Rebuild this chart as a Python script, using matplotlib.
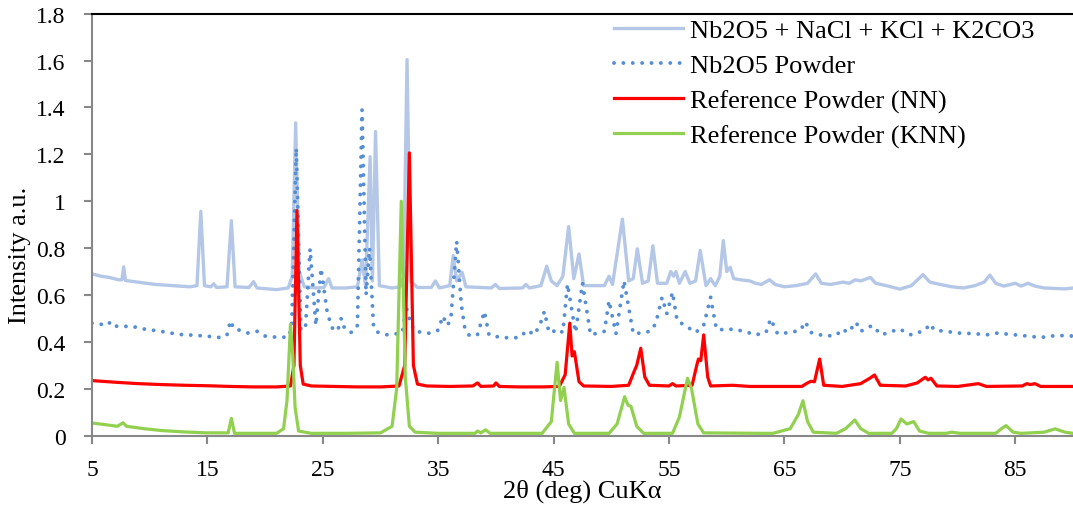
import matplotlib
matplotlib.use("Agg")
import matplotlib.pyplot as plt

plt.rcParams['font.family'] = ['Liberation Serif', 'DejaVu Serif']

# Nb2O5 + NaCl + KCl + K2CO3
mix_x = [5.0, 5.8, 6.5, 7.3, 7.6, 7.75, 7.9, 9.0, 10.5, 12.0, 13.5, 14.1, 14.43, 14.75, 15.3, 15.55,
         15.8, 16.7, 17.08, 17.4, 18.6, 19.0, 19.3, 21.0, 22.0, 22.35, 22.65, 22.95, 23.4, 24.5,
         25.1, 25.5, 25.8, 27.0, 28.0, 28.4, 28.7, 29.1, 29.3, 29.57, 29.9, 31.0, 31.7, 32.0,
         32.3, 32.6, 33.2, 34.4, 34.76, 35.1, 36.0, 36.3, 36.6, 37.07, 37.4, 39.6, 39.95, 40.3,
         42.3, 42.6, 42.9, 43.9, 44.4, 44.8, 45.3, 45.8, 46.3, 46.75, 47.2, 47.6, 49.4, 49.8,
         50.1, 50.96, 51.5, 51.9, 52.25, 52.7, 53.2, 53.6, 54.0, 54.8, 55.15, 55.4, 55.6, 55.9,
         56.4, 56.8, 57.3, 57.7, 58.2, 58.6, 59.0, 59.4, 59.7, 60.0, 60.3, 60.6, 61.2, 62.0,
         62.5, 63.0, 63.7, 64.2, 65.0, 66.0, 67.0, 67.7, 68.2, 69.0, 70.1, 70.6, 71.15, 71.6,
         72.45, 72.9, 74.0, 75.0, 76.0, 77.0, 77.6, 78.5, 79.5, 80.5, 81.5, 82.3, 82.8, 83.3,
         84.0, 85.0, 85.5, 86.1, 86.7, 87.5, 88.5, 89.3, 90.0]
mix_y = [0.690, 0.680, 0.675, 0.665, 0.665, 0.720, 0.662, 0.655, 0.645, 0.640, 0.635, 0.640, 0.957,
         0.640, 0.635, 0.648, 0.632, 0.635, 0.917, 0.635, 0.632, 0.657, 0.630, 0.623, 0.630,
         0.680, 1.334, 0.700, 0.635, 0.630, 0.632, 0.670, 0.630, 0.630, 0.635, 0.750, 0.640,
         1.190, 0.660, 1.297, 0.640, 0.630, 0.635, 0.680, 1.604, 0.660, 0.632, 0.632, 0.660,
         0.630, 0.640, 0.768, 0.660, 0.697, 0.635, 0.630, 0.645, 0.628, 0.630, 0.645, 0.630,
         0.640, 0.723, 0.660, 0.640, 0.680, 0.892, 0.670, 0.775, 0.640, 0.640, 0.680, 0.645,
         0.924, 0.660, 0.670, 0.797, 0.650, 0.660, 0.810, 0.650, 0.650, 0.700, 0.680, 0.700,
         0.650, 0.700, 0.650, 0.660, 0.790, 0.640, 0.670, 0.640, 0.680, 0.832, 0.700, 0.718,
         0.670, 0.665, 0.660, 0.650, 0.645, 0.665, 0.645, 0.635, 0.640, 0.650, 0.690, 0.650,
         0.645, 0.655, 0.650, 0.665, 0.660, 0.675, 0.650, 0.638, 0.625, 0.640, 0.687, 0.655,
         0.645, 0.635, 0.630, 0.640, 0.655, 0.685, 0.650, 0.638, 0.650, 0.638, 0.650, 0.638,
         0.630, 0.628, 0.626, 0.630]

# Nb2O5 Powder
nb_x = [5.0, 5.8, 6.3, 6.6, 6.9, 7.7, 8.3, 9.5, 11.0, 12.5, 14.0, 15.5, 16.2, 16.7, 17.0, 17.3,
        18.0, 18.5, 19.3, 20.0, 21.0, 22.0, 22.3, 22.7, 23.1, 23.5, 23.9, 24.4, 24.85, 25.4,
        25.9, 26.3, 26.6, 26.9, 27.5, 28.0, 28.4, 28.75, 29.05, 29.4, 29.8, 30.6, 31.4, 31.9,
        32.2, 32.6, 33.0, 34.2, 35.0, 35.4, 35.8, 36.1, 36.6, 37.0, 37.3, 37.7, 38.4, 39.0,
        39.4, 40.5, 42.0, 42.75, 43.3, 43.8, 44.2, 44.6, 45.0, 45.3, 45.8, 46.2, 46.9, 47.5,
        48.2, 49.0, 49.4, 49.8, 50.4, 51.1, 51.9, 53.0, 53.5, 53.85, 54.4, 54.8, 55.3, 55.7,
        56.4, 57.3, 58.0, 58.6, 59.1, 60.0, 60.5, 61.5, 62.5, 63.4, 63.8, 64.4, 65.5, 66.4,
        66.8, 67.3, 68.5, 69.5, 70.0, 70.5, 71.0, 71.2, 71.6, 72.2, 72.6, 73.4, 74.3, 75.0,
        75.5, 76.0, 77.2, 77.6, 78.0, 79.0, 80.0, 81.5, 82.5, 83.5, 84.5, 85.5, 86.5, 87.7,
        88.5, 90.0]
nb_y = [0.480, 0.475, 0.470, 0.485, 0.468, 0.465, 0.468, 0.455, 0.445, 0.432, 0.428, 0.422, 0.418,
        0.430, 0.490, 0.455, 0.448, 0.438, 0.445, 0.425, 0.420, 0.420, 0.460, 1.227, 0.450,
        0.460, 0.797, 0.470, 0.714, 0.520, 0.450, 0.450, 0.500, 0.455, 0.440, 0.470, 1.390,
        0.600, 0.800, 0.460, 0.440, 0.430, 0.435, 0.440, 0.555, 0.480, 0.445, 0.437, 0.450,
        0.510, 0.470, 0.500, 0.829, 0.560, 0.460, 0.427, 0.430, 0.530, 0.430, 0.418, 0.418,
        0.450, 0.430, 0.470, 0.530, 0.440, 0.445, 0.455, 0.440, 0.647, 0.440, 0.651, 0.430,
        0.440, 0.445, 0.576, 0.435, 0.661, 0.435, 0.440, 0.450, 0.480, 0.590, 0.520, 0.612,
        0.490, 0.470, 0.440, 0.470, 0.590, 0.455, 0.450, 0.455, 0.445, 0.430, 0.440, 0.498,
        0.435, 0.440, 0.450, 0.486, 0.440, 0.425, 0.428, 0.455, 0.440, 0.470, 0.484, 0.445,
        0.460, 0.470, 0.430, 0.445, 0.455, 0.440, 0.430, 0.450, 0.477, 0.450, 0.445, 0.438,
        0.435, 0.430, 0.438, 0.432, 0.428, 0.422, 0.420, 0.428, 0.425]

# Reference Powder (NN)
nn_x = [5.0, 7.0, 9.0, 11.0, 13.0, 15.0, 17.0, 19.0, 21.0, 22.2, 22.5, 22.76, 23.05, 23.3, 24.0,
        26.0, 28.0, 30.0, 31.6, 32.1, 32.5, 32.85, 33.2, 34.0, 36.0, 38.0, 38.4, 38.7, 39.8,
        40.0, 40.3, 42.0, 44.0, 45.5, 46.0, 46.4, 46.6, 46.8, 47.2, 47.6, 50.0, 51.5, 52.0,
        52.2, 52.55, 52.9, 53.3, 55.0, 55.3, 55.6, 57.0, 57.4, 57.55, 57.75, 58.0, 58.35, 58.6,
        60.5, 62.0, 66.5, 67.0, 67.3, 67.6, 68.05, 68.4, 70.0, 71.6, 72.4, 72.8, 73.3, 75.5,
        76.5, 77.2, 77.45, 77.7, 78.2, 80.0, 81.8, 82.5, 85.6, 86.0, 86.3, 86.7, 87.2, 90.0]
nn_y = [0.235, 0.228, 0.222, 0.218, 0.215, 0.213, 0.210, 0.208, 0.208, 0.212, 0.300, 0.960, 0.300,
        0.220, 0.212, 0.210, 0.208, 0.208, 0.212, 0.300, 1.206, 0.300, 0.220, 0.212, 0.210,
        0.212, 0.225, 0.210, 0.212, 0.225, 0.210, 0.208, 0.208, 0.210, 0.260, 0.480, 0.340,
        0.358, 0.230, 0.212, 0.210, 0.215, 0.277, 0.300, 0.373, 0.250, 0.215, 0.212, 0.222,
        0.212, 0.215, 0.300, 0.327, 0.320, 0.430, 0.250, 0.212, 0.215, 0.210, 0.210, 0.225,
        0.232, 0.230, 0.327, 0.215, 0.210, 0.222, 0.245, 0.259, 0.215, 0.212, 0.225, 0.249,
        0.238, 0.245, 0.212, 0.210, 0.222, 0.210, 0.212, 0.222, 0.218, 0.222, 0.210, 0.210]

# Reference Powder (KNN)
knn_x = [5.0, 6.0, 7.2, 7.7, 8.0, 9.5, 11.0, 13.0, 15.0, 16.8, 17.08, 17.35, 19.0, 21.0, 21.6,
         21.9, 22.2, 22.4, 22.6, 22.9, 24.0, 27.0, 30.0, 31.0, 31.4, 31.8, 32.15, 32.5, 33.0,
         35.0, 38.2, 38.4, 38.7, 39.1, 39.5, 44.0, 44.8, 45.3, 45.6, 45.9, 46.3, 46.8, 49.8,
         50.5, 51.15, 51.45, 51.7, 52.2, 52.8, 55.3, 55.9, 56.6, 56.95, 57.5, 58.0, 63.0, 64.0,
         65.5, 66.2, 66.6, 67.0, 67.5, 69.5, 70.3, 71.1, 71.6, 72.3, 74.3, 74.7, 75.1, 75.6,
         76.2, 76.7, 77.5, 79.0, 79.5, 80.2, 83.3, 83.8, 84.2, 84.8, 85.5, 87.5, 88.45, 89.3,
         90.0]
knn_y = [0.054, 0.048, 0.040, 0.055, 0.040, 0.030, 0.022, 0.016, 0.012, 0.012, 0.074, 0.010, 0.010,
         0.010, 0.030, 0.150, 0.474, 0.340, 0.120, 0.020, 0.010, 0.010, 0.012, 0.040, 0.200,
         1.000, 0.250, 0.040, 0.015, 0.010, 0.010, 0.020, 0.012, 0.025, 0.010, 0.010, 0.060,
         0.313, 0.150, 0.206, 0.050, 0.010, 0.010, 0.050, 0.166, 0.130, 0.125, 0.040, 0.010,
         0.010, 0.080, 0.245, 0.200, 0.050, 0.012, 0.010, 0.010, 0.030, 0.090, 0.149, 0.060,
         0.015, 0.010, 0.030, 0.067, 0.030, 0.010, 0.010, 0.030, 0.071, 0.050, 0.060, 0.020,
         0.010, 0.010, 0.015, 0.010, 0.010, 0.030, 0.043, 0.015, 0.010, 0.015, 0.029, 0.015,
         0.010]

fig = plt.figure(figsize=(10.73, 5.06), dpi=100)
ax = fig.add_axes([0.0857, 0.137, 0.9143, 0.834])

ax.plot(mix_x, mix_y, color='#B4C7E7', lw=2.4, label='Nb2O5 + NaCl + KCl + K2CO3')
ax.plot(nb_x, nb_y, color='#558ED5', lw=2.8, linestyle=(0, (0.01, 2.4)),
        dash_capstyle='round', label='Nb2O5 Powder')
ax.plot(nn_x, nn_y, color='#FF0000', lw=2.3, label='Reference Powder (NN)')
ax.plot(knn_x, knn_y, color='#92D050', lw=2.3, label='Reference Powder (KNN)')

ax.set_xlim(5, 90)
ax.set_ylim(0, 1.8)
ax.set_xticks([5, 15, 25, 35, 45, 55, 65, 75, 85])
ax.set_yticks([0, 0.2, 0.4, 0.6, 0.8, 1.0, 1.2, 1.4, 1.6, 1.8])
ax.set_yticklabels(['0', '0.2', '0.4', '0.6', '0.8', '1', '1.2', '1.4', '1.6', '1.8'])

for s in ['left', 'bottom']:
    ax.spines[s].set_color('#888888')
    ax.spines[s].set_linewidth(1.5)
ax.spines['right'].set_visible(False)
ax.spines['top'].set_color('#000000')
ax.spines['top'].set_linewidth(1.5)
ax.tick_params(axis='both', direction='out', length=6, width=1.5, color='#888888', labelsize=17)
ax.tick_params(axis='x', pad=11)
ax.tick_params(axis='y', pad=13)

ax.set_xlabel('2θ (deg) CuKα', fontsize=19, labelpad=-1)
ax.set_ylabel('Intensity a.u.', fontsize=19)
ax.yaxis.set_label_coords(-0.062, 0.43)

ax.legend(loc='upper left', bbox_to_anchor=(614 / 1073, 1 - 20 / 506),
          bbox_transform=fig.transFigure, frameon=False, fontsize=19,
          handlelength=2.6, handletextpad=0.27, labelspacing=0.43,
          borderpad=0, borderaxespad=0)

fig.savefig('out.png', dpi=100)
